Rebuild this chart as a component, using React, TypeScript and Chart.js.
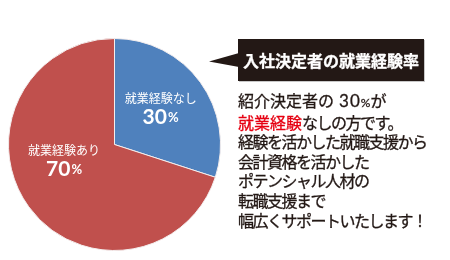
import React, { useEffect, useRef } from "react";
import { Chart, registerables } from "chart.js";

Chart.register(...registerables);

const categories = ["就業経験なし", "就業経験あり"];
const values = [30, 70];
const sliceColors = ["#4F81BD", "#C0504D"];
const titleText = "入社決定者の就業経験率";
const bodyLines = [
  "経験を活かした就職支援から",
  "会計資格を活かした",
  "ポテンシャル人材の",
  "転職支援まで",
  "幅広くサポートいたします！",
];

const INK = "#231815";

const labelPlugin = {
  id: "sliceLabels",
  afterDatasetsDraw(chart: any, _args: any, opts: any) {
    const ctx = chart.ctx;
    const meta = chart.getDatasetMeta(0);
    const total = values.reduce((a, b) => a + b, 0);
    meta.data.forEach((arc: any, i: number) => {
      const p = arc.getProps(["x", "y", "startAngle", "endAngle", "outerRadius"], true);
      const tweak = opts.tweaks[i] || { angle: 0, r: 0.5 };
      const mid = (p.startAngle + p.endAngle) / 2 + (tweak.angle * Math.PI) / 180;
      const r = p.outerRadius * tweak.r;
      const cx = p.x + Math.cos(mid) * r;
      const cy = p.y + Math.sin(mid) * r;
      ctx.save();
      ctx.fillStyle = "#ffffff";
      ctx.textBaseline = "middle";
      ctx.textAlign = "center";
      ctx.font = '12px "Noto Sans CJK JP", sans-serif';
      ctx.fillText(String(chart.data.labels[i]), cx, cy - 9);
      const pct = String(Math.round((values[i] / total) * 100));
      ctx.font = 'bold 21px Lato, "Noto Sans", sans-serif';
      const wNum = ctx.measureText(pct).width;
      ctx.font = 'bold 13px Lato, "Noto Sans", sans-serif';
      const wPct = ctx.measureText("%").width;
      const start = cx - (wNum + 1 + wPct) / 2;
      ctx.textAlign = "left";
      ctx.font = 'bold 21px Lato, "Noto Sans", sans-serif';
      ctx.fillText(pct, start, cy + 10);
      ctx.font = 'bold 13px Lato, "Noto Sans", sans-serif';
      ctx.fillText("%", start + wNum + 1, cy + 11);
      ctx.restore();
    });
  },
};

function PieChart() {
  const ref = useRef<HTMLCanvasElement | null>(null);
  useEffect(() => {
    if (!ref.current) return;
    const chart = new Chart(ref.current, {
      type: "pie",
      data: {
        labels: categories,
        datasets: [
          {
            data: values,
            backgroundColor: sliceColors,
            borderColor: "#f4eeee",
            borderWidth: 1,
          },
        ],
      },
      options: {
        responsive: false,
        animation: false,
        layout: { padding: 0 },
        plugins: {
          legend: { display: false },
          tooltip: { enabled: false },
          sliceLabels: {
            tweaks: [
              { angle: -3, r: 0.56 },
              { angle: 20, r: 0.495 },
            ],
          },
        } as any,
      },
      plugins: [labelPlugin],
    });
    return () => chart.destroy();
  }, []);
  return <canvas ref={ref} width={213} height={213} style={{ display: "block" }} />;
}

export default function App() {
  return (
    <div
      style={{
        position: "absolute",
        left: 0,
        top: 0,
        width: 450,
        height: 260,
        background: "#fff",
        overflow: "hidden",
        fontFamily: '"Noto Sans CJK JP", sans-serif',
      }}
    >
      <div style={{ position: "absolute", left: 8, top: 38, width: 213, height: 213 }}>
        <PieChart />
      </div>
      <svg
        width={450}
        height={260}
        style={{ position: "absolute", left: 0, top: 0 }}
      >
        <polygon points="209,61.5 239,53 239,67" fill={INK} />
      </svg>
      <div
        style={{
          position: "absolute",
          left: 238,
          top: 39,
          width: 186,
          height: 42,
          background: INK,
          color: "#fff",
          fontSize: 16,
          fontWeight: "bold",
          fontFeatureSettings: '"palt"',
          display: "flex",
          alignItems: "center",
          justifyContent: "center",
          boxShadow: "1px 1px 0 #c8c8c8",
          whiteSpace: "nowrap",
          WebkitTextStroke: "0.3px #fff",
        }}
      >
        {titleText}
      </div>
      <div
        style={{
          position: "absolute",
          left: 238,
          top: 91,
          fontSize: 16,
          lineHeight: "19.6px",
          letterSpacing: -1.5,
          color: INK,
          whiteSpace: "nowrap",
          WebkitTextStroke: "0.3px " + INK,
        }}
      >
        <div>
          <span style={{ letterSpacing: 0 }}>紹介決定者の</span>
          <span
            style={{
              fontFamily: 'Lato, "Noto Sans", sans-serif',
              fontSize: 17,
              letterSpacing: 1,
              marginLeft: 5,
            }}
          >
            {values[0]}
          </span>
          <span style={{ fontFamily: 'Lato, "Noto Sans", sans-serif', fontSize: 12, letterSpacing: 0 }}>
            %
          </span>
          が
        </div>
        <div>
          <span style={{ color: "#e60012", letterSpacing: 0, WebkitTextStroke: "0.3px #e60012" }}>
            就業経験
          </span>
          なしの方です。
        </div>
        {bodyLines.map((l, i) => (
          <div key={i}>{l}</div>
        ))}
      </div>
    </div>
  );
}
